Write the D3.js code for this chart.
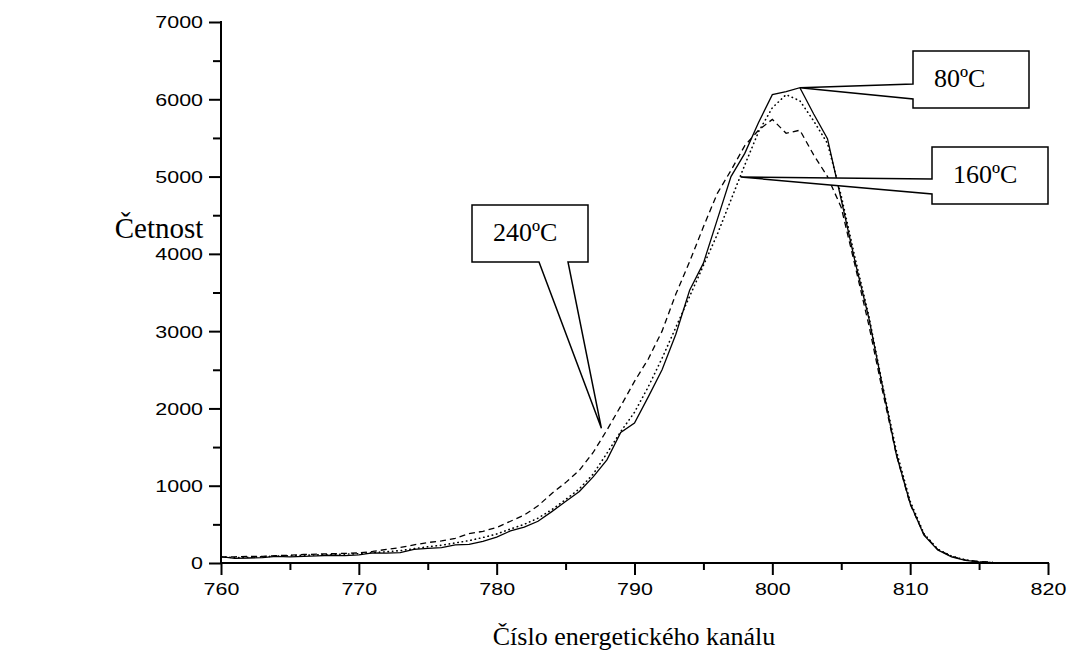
<!DOCTYPE html>
<html>
<head>
<meta charset="utf-8">
<script src="https://cdn.jsdelivr.net/npm/d3@7"></script>
<style>
  html, body { margin: 0; padding: 0; background: #fff; }
  svg { display: block; }
</style>
</head>
<body>
<svg id="chart" width="1071" height="655"></svg>
<script>
// Energy channel numbers
const channels = d3.range(760, 817);

// Counts per channel for each annealing temperature
const counts80 = [82, 60, 65, 70, 85, 80, 85, 92, 100, 95,
  105, 130, 128, 135, 175, 190, 200, 235, 240, 280,
  335, 415, 465, 540, 665, 795, 925, 1115, 1335, 1690,
  1810, 2150, 2500, 2960, 3530, 3880, 4440, 5000, 5300, 5700,
  6060, 6100, 6150, 5810, 5490, 4700, 3900, 3170, 2280, 1400,
  770, 360, 170, 80, 35, 15, 5];

const counts160 = [80, 70, 75, 80, 90, 95, 100, 105, 110, 115,
  120, 135, 145, 160, 185, 210, 230, 260, 290, 330,
  375, 440, 500, 580, 690, 820, 960, 1150, 1420, 1700,
  1950, 2280, 2650, 3050, 3450, 3850, 4250, 4700, 5150, 5580,
  5890, 6060, 5980, 5720, 5430, 4750, 3950, 3200, 2300, 1450,
  800, 380, 180, 90, 40, 15, 5];

const counts240 = [75, 80, 85, 85, 95, 100, 110, 115, 120, 125,
  130, 150, 175, 200, 235, 265, 285, 320, 380, 410,
  460, 540, 620, 740, 900, 1040, 1200, 1430, 1720, 2030,
  2350, 2640, 3000, 3480, 3900, 4350, 4780, 5080, 5400, 5600,
  5740, 5560, 5600, 5280, 5000, 4600, 3850, 3080, 2220, 1400,
  760, 370, 175, 85, 40, 20, 10];

// Axis ticks
const xTicks = [760, 770, 780, 790, 800, 810, 820];
const xMinorTicks = [765, 775, 785, 795, 805, 815];
const yTicks = [0, 1000, 2000, 3000, 4000, 5000, 6000, 7000];
const yMinorTicks = [500, 1500, 2500, 3500, 4500, 5500, 6500];

// Callout labels: text and the point (channel, count) each one indicates
const calloutLabels = ["80ºC", "160ºC", "240ºC"];
const calloutTargets = [[802, 6150], [797.7, 4994], [787.6, 1743]];

const series = [
  { name: "80ºC", values: counts80, style: "solid" },
  { name: "160ºC", values: counts160, style: "dot" },
  { name: "240ºC", values: counts240, style: "dash" }
];

const svg = d3.select("#chart");

const x = d3.scaleLinear().domain([760, 820]).range([221, 1048]);
const y = d3.scaleLinear().domain([0, 7000]).range([563, 22]);

const tickFont = "'Liberation Sans', Arial, sans-serif";
const titleFont = "'Liberation Serif', 'Times New Roman', serif";
const tickStretch = 1.3;   // tick numerals are set wide

// Curves
const line = d3.line()
  .x((d, i) => x(channels[i]))
  .y(d => y(d))
  .curve(d3.curveLinear);

const curves = svg.append("g");
series.forEach(s => {
  const p = curves.append("path")
    .attr("d", line(s.values))
    .attr("fill", "none")
    .attr("stroke", "#000");
  if (s.style === "dot") {
    p.attr("stroke-width", 1.6).attr("stroke-linecap", "round").attr("stroke-dasharray", "0.4,4");
  } else if (s.style === "dash") {
    p.attr("stroke-width", 1.3).attr("stroke-dasharray", "6,4");
  } else {
    p.attr("stroke-width", 1.3);
  }
});

// Axes
function styleAxis(g) {
  g.selectAll("line").attr("stroke", "#000").attr("stroke-width", 2);
  g.select(".domain").remove();
}

const xAxis = svg.append("g").attr("transform", `translate(0,${y(0)})`)
  .call(d3.axisBottom(x).tickValues(xTicks).tickSize(12).tickFormat(d3.format("d")));
styleAxis(xAxis);
xAxis.selectAll("text")
  .attr("y", 32).attr("dy", null)
  .attr("font-family", tickFont).attr("font-size", 16.5).attr("fill", "#000")
  .attr("transform", `scale(${tickStretch},1)`);

const xMinor = svg.append("g").attr("transform", `translate(0,${y(0)})`)
  .call(d3.axisBottom(x).tickValues(xMinorTicks).tickSize(7).tickFormat(""));
styleAxis(xMinor);

const yAxis = svg.append("g").attr("transform", `translate(${x(760)},0)`)
  .call(d3.axisLeft(y).tickValues(yTicks).tickSize(12).tickFormat(d3.format("d")));
styleAxis(yAxis);
yAxis.selectAll("text")
  .attr("x", -18 / tickStretch).attr("dy", "0.36em")
  .attr("font-family", tickFont).attr("font-size", 16.5).attr("fill", "#000")
  .attr("transform", `scale(${tickStretch},1)`);

const yMinor = svg.append("g").attr("transform", `translate(${x(760)},0)`)
  .call(d3.axisLeft(y).tickValues(yMinorTicks).tickSize(8).tickFormat(""));
styleAxis(yMinor);

// Axis lines
svg.append("line")
  .attr("x1", x(760) - 1).attr("x2", x(820) + 1)
  .attr("y1", y(0)).attr("y2", y(0))
  .attr("stroke", "#000").attr("stroke-width", 2);
svg.append("line")
  .attr("x1", x(760)).attr("x2", x(760))
  .attr("y1", y(0)).attr("y2", y(7000) - 1)
  .attr("stroke", "#000").attr("stroke-width", 2);

// Axis titles
svg.append("text")
  .attr("x", 159).attr("y", 238)
  .attr("text-anchor", "middle")
  .attr("font-family", titleFont).attr("font-size", 29)
  .text("Četnost");

svg.append("text")
  .attr("x", 634).attr("y", 645)
  .attr("text-anchor", "middle")
  .attr("font-family", titleFont).attr("font-size", 26)
  .text("Číslo energetického kanálu");

// Callout boxes with a wedge pointing to the curve
const boxes = [
  { l: 913, r: 1029, t: 51, b: 108, side: "left", a: 84, c: 99 },
  { l: 932, r: 1048, t: 147, b: 204, side: "left", a: 179, c: 194 },
  { l: 472, r: 588, t: 205, b: 262, side: "bottom", a: 539, c: 568 }
];

const callouts = svg.append("g");
boxes.forEach((bx, i) => {
  const px = x(calloutTargets[i][0]);
  const py = y(calloutTargets[i][1]);
  let pts;
  if (bx.side === "left") {
    pts = [[bx.l, bx.t], [bx.r, bx.t], [bx.r, bx.b], [bx.l, bx.b],
           [bx.l, bx.c], [px, py], [bx.l, bx.a]];
  } else {
    pts = [[bx.l, bx.t], [bx.r, bx.t], [bx.r, bx.b], [bx.c, bx.b],
           [px, py], [bx.a, bx.b], [bx.l, bx.b]];
  }
  callouts.append("path")
    .attr("d", "M" + pts.map(p => p.join(",")).join("L") + "Z")
    .attr("fill", "#fff")
    .attr("stroke", "#000")
    .attr("stroke-width", 1.5)
    .attr("stroke-linejoin", "miter");
  callouts.append("text")
    .attr("x", bx.l + 21)
    .attr("y", bx.t + 36)
    .attr("font-family", titleFont)
    .attr("font-size", 26)
    .text(calloutLabels[i]);
});
</script>
</body>
</html>
